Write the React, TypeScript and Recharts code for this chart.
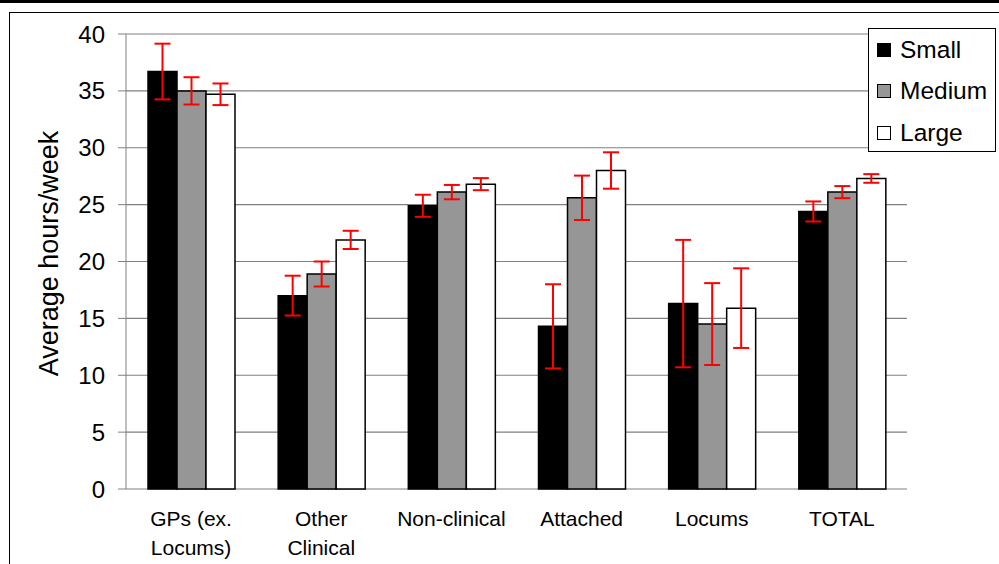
import {
  Bar,
  BarChart,
  CartesianGrid,
  ErrorBar,
  Label,
  Legend,
  ReferenceLine,
  XAxis,
  YAxis,
} from "recharts";

const categories = [
  "GPs (ex.\nLocums)",
  "Other\nClinical",
  "Non-clinical",
  "Attached",
  "Locums",
  "TOTAL",
];

const seriesNames = ["Small", "Medium", "Large"];

const small = [36.7, 17.0, 24.9, 14.3, 16.3, 24.4];
const medium = [35.0, 18.9, 26.1, 25.6, 14.5, 26.1];
const large = [34.7, 21.9, 26.8, 28.0, 15.9, 27.3];

const smallErr = [2.45, 1.75, 0.97, 3.7, 5.6, 0.88];
const mediumErr = [1.2, 1.1, 0.63, 1.95, 3.6, 0.53];
const largeErr = [0.95, 0.8, 0.53, 1.6, 3.5, 0.38];

const yTicks = [0, 5, 10, 15, 20, 25, 30, 35, 40];
const edgeTicks = [0, 1, 2, 3, 4, 5, 6];

const FONT = "'Liberation Sans', Arial, sans-serif";
const GRID = "#808080";

const data = categories.map((name, i) => ({
  name,
  small: small[i],
  medium: medium[i],
  large: large[i],
  smallErr: smallErr[i],
  mediumErr: mediumErr[i],
  largeErr: largeErr[i],
}));

function CategoryTick({ x, y, payload }: any) {
  const lines = String(payload.value).split("\n");
  return (
    <g transform={`translate(${x},${y})`}>
      {lines.map((line, i) => (
        <text
          key={i}
          x={0}
          y={37 + i * 29}
          textAnchor="middle"
          fontSize={21}
          fontFamily={FONT}
          fill="#000"
        >
          {line}
        </text>
      ))}
    </g>
  );
}

function YTitle({ viewBox }: any) {
  const cx = viewBox.x + 49;
  const cy = viewBox.y + viewBox.height / 2 - 8;
  return (
    <text
      x={cx}
      y={cy}
      transform={`rotate(-90 ${cx} ${cy})`}
      textAnchor="middle"
      dominantBaseline="central"
      fontSize={27}
      fontFamily={FONT}
      fill="#000"
    >
      Average hours/week
    </text>
  );
}

function LegendBox({ payload }: any) {
  // keep the series order (Small, Medium, Large) rather than alphabetical
  const items = [...(payload || [])].sort(
    (a: any, b: any) => seriesNames.indexOf(a.value) - seriesNames.indexOf(b.value)
  );
  return (
    <div
      style={{
        width: 128,
        height: 124,
        border: "1px solid #000",
        background: "#fff",
        boxSizing: "border-box",
        paddingTop: 0,
        fontFamily: FONT,
        fontSize: 24.5,
      }}
    >
      {items.map((entry: any) => (
        <div
          key={entry.value}
          style={{ display: "flex", alignItems: "center", height: 41.5, paddingLeft: 8 }}
        >
          <span
            style={{
              width: 14,
              height: 14,
              boxSizing: "border-box",
              border: "1px solid #000",
              background: entry.color,
              marginRight: 9,
            }}
          />
          <span>{entry.value}</span>
        </div>
      ))}
    </div>
  );
}

export default function App() {
  return (
    <div
      style={{
        position: "absolute",
        left: 0,
        top: 0,
        width: 999,
        height: 564,
        overflow: "hidden",
        background: "#fff",
      }}
    >
      <div style={{ position: "absolute", left: 0, top: 0, width: 999, height: 3, background: "#000" }} />
      <div
        style={{
          position: "absolute",
          left: 9,
          top: 12,
          width: 1100,
          height: 700,
          border: "1px solid #000",
        }}
      />
      <div style={{ position: "absolute", left: 0, top: 0 }}>
        <BarChart
          width={999}
          height={564}
          data={data}
          margin={{ top: 34, right: 92, left: 0, bottom: 0 }}
          barGap={0}
          barSize={29}
        >
          <CartesianGrid vertical={false} stroke={GRID} strokeWidth={1.2} />
          <XAxis
            xAxisId="edges"
            type="number"
            domain={[0, 6]}
            ticks={edgeTicks}
            allowDataOverflow
            tick={false}
            tickSize={6}
            tickLine={{ stroke: GRID }}
            axisLine={{ stroke: GRID }}
            height={0}
          />
          <XAxis
            dataKey="name"
            height={75}
            tickLine={false}
            axisLine={false}
            tickSize={0}
            tickMargin={0}
            interval={0}
            tick={<CategoryTick />}
          />
          <YAxis
            domain={[0, 40]}
            ticks={yTicks}
            width={126}
            tickSize={8}
            tickMargin={13}
            tickLine={{ stroke: GRID }}
            axisLine={{ stroke: GRID }}
            tick={{ fontSize: 24, fill: "#000", fontFamily: FONT }}
          >
            <Label content={<YTitle />} />
          </YAxis>
          <ReferenceLine xAxisId="edges" x={6} stroke={GRID} />
          <Legend
            content={<LegendBox />}
            layout="horizontal"
            verticalAlign="middle"
            align="center"
            wrapperStyle={{ left: 868, top: 28, width: 128 }}
          />
          <Bar dataKey="small" name="Small" fill="#000000" stroke="#000" strokeWidth={1.5} isAnimationActive={false}>
            <ErrorBar dataKey="smallErr" width={8} stroke="#ff0000" strokeWidth={2} direction="y" />
          </Bar>
          <Bar dataKey="medium" name="Medium" fill="#969696" stroke="#000" strokeWidth={1.5} isAnimationActive={false}>
            <ErrorBar dataKey="mediumErr" width={8} stroke="#ff0000" strokeWidth={2} direction="y" />
          </Bar>
          <Bar dataKey="large" name="Large" fill="#ffffff" stroke="#000" strokeWidth={1.5} isAnimationActive={false}>
            <ErrorBar dataKey="largeErr" width={8} stroke="#ff0000" strokeWidth={2} direction="y" />
          </Bar>
        </BarChart>
      </div>
    </div>
  );
}
